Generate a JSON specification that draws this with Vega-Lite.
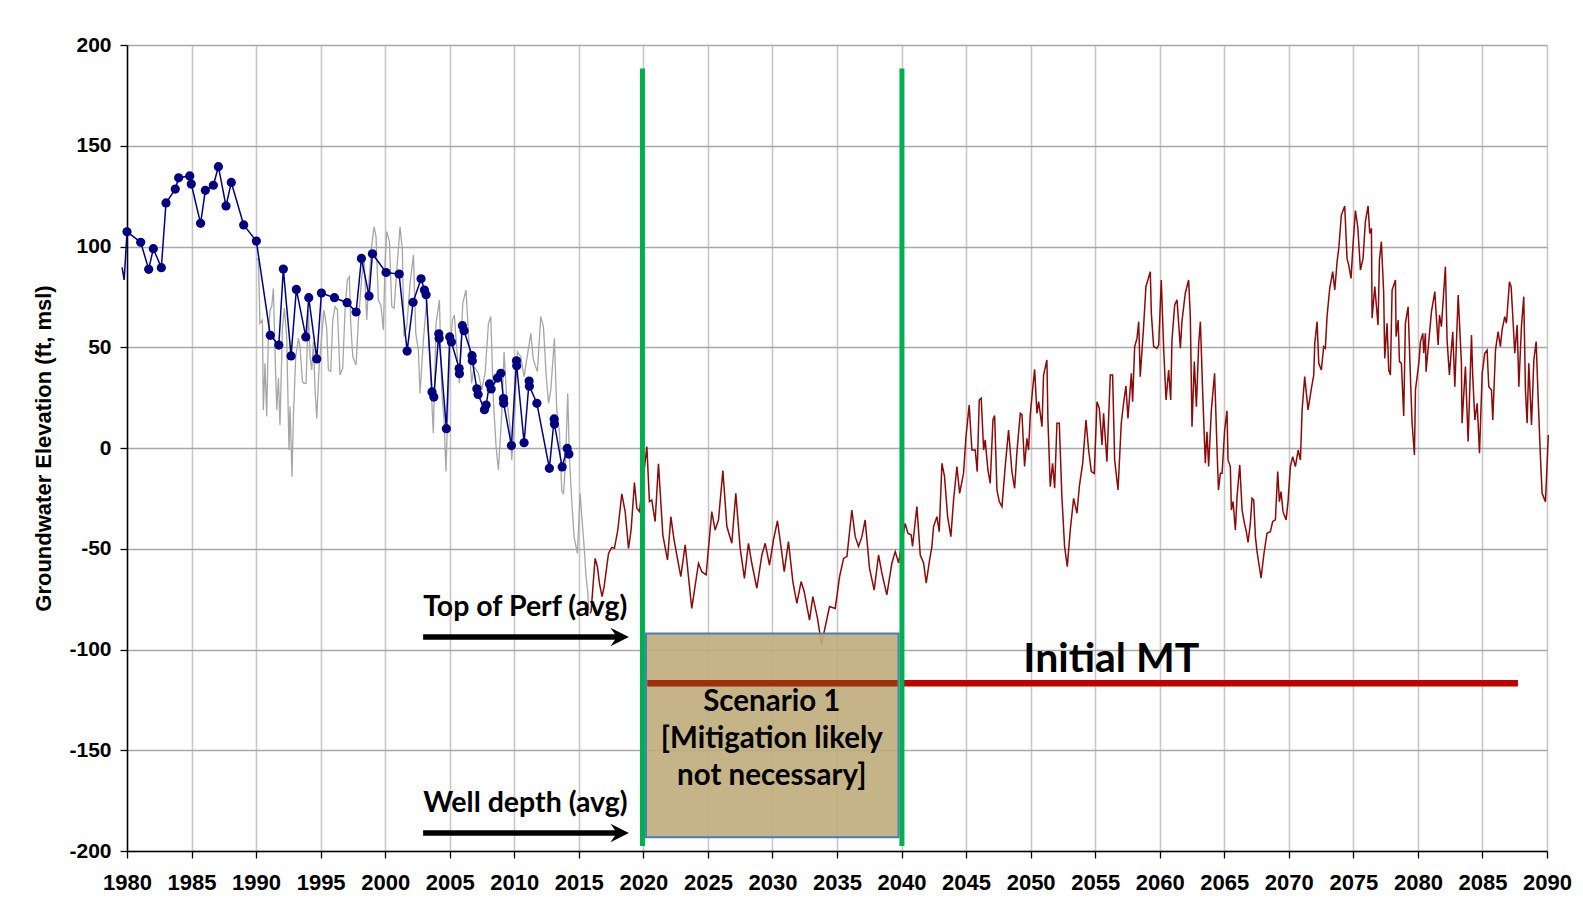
{
  "$schema": "https://vega.github.io/schema/vega-lite/v6.json",
  "width": 1420,
  "height": 806,
  "autosize": {"type": "none"},
  "padding": {"left": 127, "top": 45, "right": 36, "bottom": 52},
  "background": "#ffffff",
  "config": {"view": {"stroke": null}, "font": "Liberation Sans"},
  "datasets": {
    "blue": [
      {"year": 1979.62, "v": 89.7}, {"year": 1979.78, "v": 83.4},
      {"year": 1980.0, "v": 107.3}, {"year": 1981.06, "v": 102.1}, {"year": 1981.68, "v": 88.7}, {"year": 1982.04, "v": 98.9},
      {"year": 1982.66, "v": 89.5}, {"year": 1983.02, "v": 121.6}, {"year": 1983.74, "v": 128.5}, {"year": 1984.0, "v": 134.1},
      {"year": 1984.86, "v": 135.0}, {"year": 1984.98, "v": 131.0}, {"year": 1985.7, "v": 111.5}, {"year": 1986.07, "v": 127.9},
      {"year": 1986.69, "v": 130.4}, {"year": 1987.08, "v": 139.6}, {"year": 1987.67, "v": 120.1}, {"year": 1988.08, "v": 131.8},
      {"year": 1989.04, "v": 110.7}, {"year": 1990.02, "v": 102.7}, {"year": 1991.1, "v": 55.9}, {"year": 1991.76, "v": 51.1},
      {"year": 1992.11, "v": 88.8}, {"year": 1992.71, "v": 45.7}, {"year": 1993.12, "v": 78.7}, {"year": 1993.85, "v": 55.1},
      {"year": 1994.08, "v": 74.6}, {"year": 1994.7, "v": 44.2}, {"year": 1995.06, "v": 76.9}, {"year": 1996.07, "v": 74.6},
      {"year": 1997.05, "v": 72.1}, {"year": 1997.75, "v": 67.5}, {"year": 1998.16, "v": 94.1}, {"year": 1998.75, "v": 75.4},
      {"year": 1999.01, "v": 96.4}, {"year": 2000.07, "v": 87.1}, {"year": 2001.08, "v": 86.3}, {"year": 2001.7, "v": 48.1},
      {"year": 2002.16, "v": 72.3}, {"year": 2002.78, "v": 84.0}, {"year": 2003.04, "v": 78.4}, {"year": 2003.17, "v": 76.1},
      {"year": 2003.63, "v": 27.8}, {"year": 2003.77, "v": 25.3}, {"year": 2004.15, "v": 56.7}, {"year": 2004.18, "v": 54.4},
      {"year": 2004.74, "v": 9.6}, {"year": 2005.0, "v": 55.1}, {"year": 2005.13, "v": 52.6}, {"year": 2005.73, "v": 39.4},
      {"year": 2005.75, "v": 36.9}, {"year": 2005.98, "v": 60.7}, {"year": 2006.11, "v": 58.2}, {"year": 2006.73, "v": 45.8},
      {"year": 2006.75, "v": 43.3}, {"year": 2007.1, "v": 29.4}, {"year": 2007.2, "v": 26.6}, {"year": 2007.69, "v": 19.0},
      {"year": 2007.82, "v": 21.3}, {"year": 2008.08, "v": 31.8}, {"year": 2008.21, "v": 29.3}, {"year": 2008.7, "v": 34.7},
      {"year": 2008.96, "v": 37.1}, {"year": 2009.16, "v": 24.5}, {"year": 2009.18, "v": 22.2}, {"year": 2009.78, "v": 1.2},
      {"year": 2010.17, "v": 43.3}, {"year": 2010.19, "v": 40.8}, {"year": 2010.76, "v": 2.6}, {"year": 2011.15, "v": 33.2},
      {"year": 2011.17, "v": 30.7}, {"year": 2011.75, "v": 22.2}, {"year": 2012.72, "v": -10.1}, {"year": 2013.09, "v": 14.4},
      {"year": 2013.11, "v": 11.9}, {"year": 2013.71, "v": -9.4}, {"year": 2014.1, "v": -0.2}, {"year": 2014.23, "v": -3.0}
    ],
    "gray": [
      {"year": 1990.02, "v": 93.3}, {"year": 1990.18, "v": 94.1}, {"year": 1990.3, "v": 61.9}, {"year": 1990.49, "v": 63.5},
      {"year": 1990.56, "v": 18.9}, {"year": 1990.69, "v": 42.0}, {"year": 1990.82, "v": 15.6}, {"year": 1990.95, "v": 55.3},
      {"year": 1991.08, "v": 68.5}, {"year": 1991.21, "v": 70.1}, {"year": 1991.34, "v": 79.2}, {"year": 1991.47, "v": 47.0},
      {"year": 1991.6, "v": 18.9}, {"year": 1991.73, "v": 34.6}, {"year": 1991.85, "v": 11.4}, {"year": 1992.04, "v": 59.4},
      {"year": 1992.19, "v": 69.3}, {"year": 1992.37, "v": 55.3}, {"year": 1992.55, "v": -1.0}, {"year": 1992.63, "v": 20.5},
      {"year": 1992.78, "v": -14.2}, {"year": 1992.89, "v": 15.6}, {"year": 1993.07, "v": 45.3}, {"year": 1993.28, "v": 54.4},
      {"year": 1993.4, "v": 50.3}, {"year": 1993.59, "v": 32.9}, {"year": 1993.71, "v": 32.1}, {"year": 1993.87, "v": 32.1},
      {"year": 1994.05, "v": 68.5}, {"year": 1994.18, "v": 45.3}, {"year": 1994.31, "v": 38.7}, {"year": 1994.44, "v": 52.8},
      {"year": 1994.57, "v": 28.8}, {"year": 1994.7, "v": 14.7}, {"year": 1994.88, "v": 40.4}, {"year": 1995.08, "v": 55.3},
      {"year": 1995.26, "v": 68.5}, {"year": 1995.47, "v": 59.4}, {"year": 1995.6, "v": 38.7}, {"year": 1995.78, "v": 37.9},
      {"year": 1995.94, "v": 63.5}, {"year": 1996.12, "v": 70.1}, {"year": 1996.3, "v": 68.5}, {"year": 1996.5, "v": 36.2},
      {"year": 1996.71, "v": 39.6}, {"year": 1996.89, "v": 68.5}, {"year": 1997.07, "v": 83.4}, {"year": 1997.23, "v": 85.0},
      {"year": 1997.33, "v": 61.9}, {"year": 1997.49, "v": 45.3}, {"year": 1997.74, "v": 41.2}, {"year": 1997.93, "v": 63.5},
      {"year": 1998.18, "v": 84.2}, {"year": 1998.36, "v": 95.8}, {"year": 1998.57, "v": 63.5}, {"year": 1998.7, "v": 79.2},
      {"year": 1998.96, "v": 100.7}, {"year": 1999.14, "v": 109.8}, {"year": 1999.29, "v": 104.9}, {"year": 1999.47, "v": 73.4},
      {"year": 1999.66, "v": 71.0}, {"year": 1999.86, "v": 58.6}, {"year": 1999.99, "v": 91.6}, {"year": 2000.12, "v": 107.4},
      {"year": 2000.33, "v": 102.4}, {"year": 2000.51, "v": 70.1}, {"year": 2000.69, "v": 69.3}, {"year": 2000.9, "v": 88.3},
      {"year": 2001.15, "v": 109.8}, {"year": 2001.33, "v": 98.3}, {"year": 2001.46, "v": 55.3}, {"year": 2001.67, "v": 60.2},
      {"year": 2001.93, "v": 81.7}, {"year": 2002.19, "v": 95.8}, {"year": 2002.37, "v": 56.9}, {"year": 2002.57, "v": 48.6},
      {"year": 2002.7, "v": 27.1}, {"year": 2002.96, "v": 53.6}, {"year": 2003.22, "v": 73.4}, {"year": 2003.47, "v": 42.0},
      {"year": 2003.73, "v": 7.3}, {"year": 2003.94, "v": 61.9}, {"year": 2004.2, "v": 73.4}, {"year": 2004.38, "v": 28.8},
      {"year": 2004.56, "v": 13.9}, {"year": 2004.71, "v": -11.7}, {"year": 2004.82, "v": 12.3}, {"year": 2005.02, "v": 48.6},
      {"year": 2005.21, "v": 63.5}, {"year": 2005.36, "v": 66.0}, {"year": 2005.54, "v": 49.5}, {"year": 2005.75, "v": 32.1},
      {"year": 2006.01, "v": 71.8}, {"year": 2006.26, "v": 78.4}, {"year": 2006.45, "v": 56.9}, {"year": 2006.7, "v": 32.1},
      {"year": 2006.88, "v": 40.4}, {"year": 2007.22, "v": 37.1}, {"year": 2007.48, "v": 28.8}, {"year": 2007.74, "v": 37.1},
      {"year": 2008.0, "v": 61.9}, {"year": 2008.18, "v": 65.2}, {"year": 2008.38, "v": 23.8}, {"year": 2008.59, "v": 0.7},
      {"year": 2008.77, "v": -10.9}, {"year": 2009.03, "v": 17.2}, {"year": 2009.21, "v": 47.8}, {"year": 2009.42, "v": 23.8},
      {"year": 2009.67, "v": 10.6}, {"year": 2009.8, "v": -6.0}, {"year": 2009.98, "v": 8.9}, {"year": 2010.24, "v": 47.8},
      {"year": 2010.5, "v": 45.3}, {"year": 2010.76, "v": 35.4}, {"year": 2011.02, "v": 46.1}, {"year": 2011.28, "v": 56.9},
      {"year": 2011.48, "v": 43.7}, {"year": 2011.79, "v": 37.9}, {"year": 2012.05, "v": 65.2}, {"year": 2012.26, "v": 60.2},
      {"year": 2012.46, "v": 37.1}, {"year": 2012.65, "v": 22.2}, {"year": 2012.83, "v": 28.8}, {"year": 2013.11, "v": 54.4},
      {"year": 2013.29, "v": 18.9}, {"year": 2013.5, "v": 8.1}, {"year": 2013.68, "v": -21.6}, {"year": 2013.81, "v": -22.5},
      {"year": 2013.96, "v": -9.2}, {"year": 2014.14, "v": 27.1}, {"year": 2014.27, "v": -4.3}, {"year": 2014.45, "v": -25.8},
      {"year": 2014.63, "v": -44.0}, {"year": 2014.89, "v": -52.3}, {"year": 2015.1, "v": -22.5}, {"year": 2015.3, "v": -39.8},
      {"year": 2015.43, "v": -50.6}, {"year": 2015.56, "v": -63.8}, {"year": 2015.69, "v": -71.3}, {"year": 2015.77, "v": -80.4}
    ],
    "red": [
      {"year": 2015.87, "v": -82.0}, {"year": 2015.95, "v": -81.2}, {"year": 2016.26, "v": -54.8}, {"year": 2016.44, "v": -58.9},
      {"year": 2016.6, "v": -67.2}, {"year": 2016.8, "v": -73.8}, {"year": 2016.96, "v": -68.8}, {"year": 2017.3, "v": -52.3},
      {"year": 2017.55, "v": -49.3}, {"year": 2017.76, "v": -49.8}, {"year": 2018.02, "v": -40.7}, {"year": 2018.33, "v": -22.8},
      {"year": 2018.59, "v": -31.6}, {"year": 2018.85, "v": -49.8}, {"year": 2019.05, "v": -40.7}, {"year": 2019.31, "v": -17.2},
      {"year": 2019.49, "v": -29.9}, {"year": 2019.7, "v": -31.6}, {"year": 2020.27, "v": 0.7}, {"year": 2020.47, "v": -26.6},
      {"year": 2020.65, "v": -25.8}, {"year": 2020.91, "v": -36.5}, {"year": 2021.17, "v": -7.9}, {"year": 2021.51, "v": -43.2},
      {"year": 2021.87, "v": -55.6}, {"year": 2022.13, "v": -34.1}, {"year": 2022.38, "v": -45.7}, {"year": 2022.9, "v": -63.8},
      {"year": 2023.24, "v": -48.1}, {"year": 2023.75, "v": -79.6}, {"year": 2024.27, "v": -57.2}, {"year": 2024.53, "v": -61.4},
      {"year": 2024.86, "v": -63.0}, {"year": 2025.3, "v": -31.6}, {"year": 2025.56, "v": -40.7}, {"year": 2025.82, "v": -35.7},
      {"year": 2026.16, "v": -11.2}, {"year": 2026.47, "v": -39.0}, {"year": 2026.85, "v": -47.3}, {"year": 2027.16, "v": -22.5},
      {"year": 2027.5, "v": -49.8}, {"year": 2027.83, "v": -64.7}, {"year": 2028.14, "v": -47.3}, {"year": 2028.4, "v": -57.2},
      {"year": 2028.79, "v": -69.6}, {"year": 2029.18, "v": -53.1}, {"year": 2029.44, "v": -47.3}, {"year": 2029.77, "v": -58.1},
      {"year": 2030.08, "v": -45.6}, {"year": 2030.39, "v": -36.1}, {"year": 2030.73, "v": -52.3}, {"year": 2030.91, "v": -61.4},
      {"year": 2031.24, "v": -46.5}, {"year": 2031.58, "v": -66.3}, {"year": 2031.89, "v": -77.1}, {"year": 2032.22, "v": -66.3},
      {"year": 2032.46, "v": -71.3}, {"year": 2032.87, "v": -85.4}, {"year": 2033.13, "v": -73.8}, {"year": 2033.49, "v": -84.5},
      {"year": 2033.8, "v": -97.3}, {"year": 2034.09, "v": -88.7}, {"year": 2034.42, "v": -78.7}, {"year": 2034.86, "v": -79.6},
      {"year": 2035.2, "v": -63.8}, {"year": 2035.51, "v": -54.8}, {"year": 2035.77, "v": -53.9}, {"year": 2036.15, "v": -30.8},
      {"year": 2036.41, "v": -44.0}, {"year": 2036.67, "v": -48.9}, {"year": 2036.93, "v": -44.0}, {"year": 2037.18, "v": -35.7},
      {"year": 2037.52, "v": -59.7}, {"year": 2037.88, "v": -70.5}, {"year": 2038.22, "v": -53.1}, {"year": 2038.48, "v": -62.2},
      {"year": 2038.86, "v": -72.9}, {"year": 2039.25, "v": -57.2}, {"year": 2039.51, "v": -51.4}, {"year": 2039.77, "v": -57.0},
      {"year": 2040.28, "v": -37.4}, {"year": 2040.49, "v": -42.3}, {"year": 2040.75, "v": -43.2}, {"year": 2040.85, "v": -48.9},
      {"year": 2041.19, "v": -29.1}, {"year": 2041.45, "v": -53.1}, {"year": 2041.71, "v": -57.2}, {"year": 2041.91, "v": -67.1},
      {"year": 2042.17, "v": -55.6}, {"year": 2042.35, "v": -48.9}, {"year": 2042.48, "v": -39.0}, {"year": 2042.74, "v": -34.1},
      {"year": 2042.92, "v": -41.5}, {"year": 2043.13, "v": -7.6}, {"year": 2043.33, "v": -14.2}, {"year": 2043.57, "v": -34.1},
      {"year": 2043.82, "v": -44.0}, {"year": 2044.03, "v": -25.8}, {"year": 2044.29, "v": -9.2}, {"year": 2044.5, "v": -22.5},
      {"year": 2044.8, "v": -12.6}, {"year": 2044.99, "v": 5.6}, {"year": 2045.24, "v": 21.3}, {"year": 2045.45, "v": -1.0},
      {"year": 2045.71, "v": -1.0}, {"year": 2045.86, "v": -11.7}, {"year": 2046.02, "v": 23.8}, {"year": 2046.17, "v": 24.7},
      {"year": 2046.36, "v": -1.0}, {"year": 2046.48, "v": 4.0}, {"year": 2046.69, "v": -10.9}, {"year": 2046.87, "v": -17.5},
      {"year": 2047.08, "v": 13.9}, {"year": 2047.21, "v": 16.1}, {"year": 2047.39, "v": -20.8}, {"year": 2047.57, "v": -26.6},
      {"year": 2047.78, "v": -29.1}, {"year": 2048.03, "v": -9.2}, {"year": 2048.29, "v": 8.9}, {"year": 2048.55, "v": -11.7},
      {"year": 2048.76, "v": -20.0}, {"year": 2048.94, "v": -1.8}, {"year": 2049.2, "v": 17.2}, {"year": 2049.33, "v": 16.4},
      {"year": 2049.53, "v": -9.2}, {"year": 2049.71, "v": 4.8}, {"year": 2049.84, "v": -1.0}, {"year": 2049.97, "v": 16.4},
      {"year": 2050.15, "v": 28.8}, {"year": 2050.31, "v": 39.0}, {"year": 2050.49, "v": 17.2}, {"year": 2050.62, "v": 23.0},
      {"year": 2050.88, "v": 10.6}, {"year": 2051.0, "v": 36.2}, {"year": 2051.26, "v": 43.7}, {"year": 2051.34, "v": 13.9},
      {"year": 2051.52, "v": -19.2}, {"year": 2051.7, "v": -7.6}, {"year": 2051.86, "v": -20.0}, {"year": 2052.04, "v": 12.3},
      {"year": 2052.22, "v": 12.3}, {"year": 2052.42, "v": -24.1}, {"year": 2052.63, "v": -48.9}, {"year": 2052.84, "v": -58.9},
      {"year": 2053.07, "v": -40.7}, {"year": 2053.33, "v": -25.0}, {"year": 2053.59, "v": -32.4}, {"year": 2053.77, "v": -19.2},
      {"year": 2054.03, "v": -7.6}, {"year": 2054.29, "v": 13.9}, {"year": 2054.49, "v": -1.0}, {"year": 2054.7, "v": -11.7},
      {"year": 2054.93, "v": -12.6}, {"year": 2055.14, "v": 23.0}, {"year": 2055.32, "v": 19.7}, {"year": 2055.53, "v": 1.5},
      {"year": 2055.65, "v": 17.2}, {"year": 2055.91, "v": -6.8}, {"year": 2056.17, "v": 36.2}, {"year": 2056.35, "v": 36.2},
      {"year": 2056.51, "v": -6.0}, {"year": 2056.77, "v": -20.8}, {"year": 2057.02, "v": 12.3}, {"year": 2057.2, "v": 22.2},
      {"year": 2057.38, "v": 30.8}, {"year": 2057.54, "v": 14.7}, {"year": 2057.8, "v": 37.1}, {"year": 2057.9, "v": 23.0},
      {"year": 2058.06, "v": 50.3}, {"year": 2058.24, "v": 54.4}, {"year": 2058.37, "v": 62.7}, {"year": 2058.49, "v": 35.4},
      {"year": 2058.75, "v": 60.2}, {"year": 2058.93, "v": 80.1}, {"year": 2059.27, "v": 87.5}, {"year": 2059.35, "v": 66.8},
      {"year": 2059.53, "v": 50.3}, {"year": 2059.79, "v": 49.5}, {"year": 2059.92, "v": 51.1}, {"year": 2060.12, "v": 83.4},
      {"year": 2060.31, "v": 48.6}, {"year": 2060.49, "v": 23.8}, {"year": 2060.69, "v": 38.7}, {"year": 2060.85, "v": 23.8},
      {"year": 2060.95, "v": 53.6}, {"year": 2061.16, "v": 71.0}, {"year": 2061.34, "v": 73.5}, {"year": 2061.6, "v": 49.5},
      {"year": 2061.72, "v": 62.7}, {"year": 2061.98, "v": 76.8}, {"year": 2062.24, "v": 83.4}, {"year": 2062.37, "v": 65.2},
      {"year": 2062.5, "v": 10.6}, {"year": 2062.68, "v": 42.9}, {"year": 2062.84, "v": 20.5}, {"year": 2063.02, "v": 52.0},
      {"year": 2063.15, "v": 62.7}, {"year": 2063.33, "v": 27.1}, {"year": 2063.53, "v": -7.6}, {"year": 2063.66, "v": 8.1},
      {"year": 2063.79, "v": -9.2}, {"year": 2064.0, "v": 18.9}, {"year": 2064.25, "v": 37.1}, {"year": 2064.44, "v": -1.0},
      {"year": 2064.55, "v": -20.8}, {"year": 2064.7, "v": -12.5}, {"year": 2064.83, "v": -12.5}, {"year": 2065.03, "v": 8.9},
      {"year": 2065.21, "v": 18.5}, {"year": 2065.29, "v": -5.9}, {"year": 2065.47, "v": -9.2}, {"year": 2065.55, "v": -30.7},
      {"year": 2065.68, "v": -26.6}, {"year": 2065.86, "v": -40.7}, {"year": 2065.99, "v": -24.1}, {"year": 2066.2, "v": -8.4},
      {"year": 2066.38, "v": -30.7}, {"year": 2066.56, "v": -37.4}, {"year": 2066.71, "v": -41.5}, {"year": 2066.84, "v": -46.9},
      {"year": 2067.02, "v": -37.4}, {"year": 2067.15, "v": -24.9}, {"year": 2067.28, "v": -25.8}, {"year": 2067.41, "v": -44.0},
      {"year": 2067.54, "v": -51.4}, {"year": 2067.85, "v": -64.6}, {"year": 2068.06, "v": -53.1}, {"year": 2068.31, "v": -42.3},
      {"year": 2068.57, "v": -41.5}, {"year": 2068.75, "v": -36.5}, {"year": 2068.96, "v": -35.7}, {"year": 2069.14, "v": -11.7},
      {"year": 2069.27, "v": -26.6}, {"year": 2069.4, "v": -21.6}, {"year": 2069.55, "v": -31.6}, {"year": 2069.79, "v": -35.7},
      {"year": 2069.94, "v": -26.6}, {"year": 2070.12, "v": -9.2}, {"year": 2070.3, "v": -4.3}, {"year": 2070.51, "v": -9.2},
      {"year": 2070.72, "v": -1.0}, {"year": 2070.9, "v": -6.0}, {"year": 2071.03, "v": 18.9}, {"year": 2071.23, "v": 35.4},
      {"year": 2071.49, "v": 18.9}, {"year": 2071.75, "v": 29.6}, {"year": 2071.93, "v": 36.2}, {"year": 2072.01, "v": 51.9},
      {"year": 2072.19, "v": 62.7}, {"year": 2072.32, "v": 42.0}, {"year": 2072.52, "v": 38.7}, {"year": 2072.7, "v": 50.3},
      {"year": 2072.83, "v": 49.5}, {"year": 2072.96, "v": 65.2}, {"year": 2073.17, "v": 79.2}, {"year": 2073.4, "v": 87.5},
      {"year": 2073.56, "v": 78.4}, {"year": 2073.74, "v": 92.5}, {"year": 2073.87, "v": 99.1}, {"year": 2074.07, "v": 115.6},
      {"year": 2074.33, "v": 120.1}, {"year": 2074.51, "v": 94.1}, {"year": 2074.64, "v": 90.8}, {"year": 2074.82, "v": 84.2},
      {"year": 2074.98, "v": 101.6}, {"year": 2075.16, "v": 117.8}, {"year": 2075.34, "v": 109.8}, {"year": 2075.55, "v": 88.3},
      {"year": 2075.75, "v": 94.1}, {"year": 2075.93, "v": 112.3}, {"year": 2076.14, "v": 120.1}, {"year": 2076.27, "v": 106.5},
      {"year": 2076.4, "v": 109.0}, {"year": 2076.45, "v": 64.4}, {"year": 2076.66, "v": 80.1}, {"year": 2076.79, "v": 70.1},
      {"year": 2076.91, "v": 61.0}, {"year": 2077.02, "v": 93.3}, {"year": 2077.17, "v": 102.4}, {"year": 2077.35, "v": 76.8},
      {"year": 2077.43, "v": 44.5}, {"year": 2077.61, "v": 61.9}, {"year": 2077.74, "v": 38.7}, {"year": 2077.87, "v": 36.2},
      {"year": 2078.0, "v": 78.4}, {"year": 2078.26, "v": 83.4}, {"year": 2078.31, "v": 55.3}, {"year": 2078.47, "v": 63.5},
      {"year": 2078.57, "v": 42.9}, {"year": 2078.72, "v": 42.0}, {"year": 2078.9, "v": 15.9}, {"year": 2079.03, "v": 61.9},
      {"year": 2079.24, "v": 70.1}, {"year": 2079.42, "v": 35.4}, {"year": 2079.55, "v": 12.3}, {"year": 2079.73, "v": -3.5},
      {"year": 2079.81, "v": 28.8}, {"year": 2080.07, "v": 42.0}, {"year": 2080.2, "v": 52.8}, {"year": 2080.38, "v": 56.9},
      {"year": 2080.45, "v": 47.0}, {"year": 2080.58, "v": 56.9}, {"year": 2080.63, "v": 37.9}, {"year": 2080.84, "v": 52.8},
      {"year": 2081.05, "v": 67.7}, {"year": 2081.31, "v": 77.6}, {"year": 2081.41, "v": 66.8}, {"year": 2081.57, "v": 51.1},
      {"year": 2081.67, "v": 66.0}, {"year": 2081.82, "v": 60.2}, {"year": 2082.13, "v": 90.0}, {"year": 2082.26, "v": 53.6},
      {"year": 2082.44, "v": 36.2}, {"year": 2082.7, "v": 57.7}, {"year": 2082.86, "v": 30.4}, {"year": 2083.12, "v": 75.9},
      {"year": 2083.37, "v": 42.0}, {"year": 2083.42, "v": 12.3}, {"year": 2083.68, "v": 40.4}, {"year": 2083.89, "v": 3.2},
      {"year": 2084.15, "v": 56.1}, {"year": 2084.25, "v": 35.4}, {"year": 2084.41, "v": 13.9}, {"year": 2084.59, "v": 22.2},
      {"year": 2084.77, "v": -2.6}, {"year": 2084.98, "v": 37.1}, {"year": 2085.18, "v": 47.0}, {"year": 2085.36, "v": 48.6},
      {"year": 2085.49, "v": 30.4}, {"year": 2085.7, "v": 28.8}, {"year": 2085.8, "v": 13.9}, {"year": 2086.01, "v": 48.6},
      {"year": 2086.21, "v": 57.7}, {"year": 2086.39, "v": 50.3}, {"year": 2086.52, "v": 58.6}, {"year": 2086.73, "v": 65.2},
      {"year": 2086.86, "v": 61.9}, {"year": 2087.09, "v": 82.5}, {"year": 2087.22, "v": 80.1}, {"year": 2087.38, "v": 61.9},
      {"year": 2087.5, "v": 47.0}, {"year": 2087.69, "v": 61.0}, {"year": 2087.82, "v": 30.4}, {"year": 2088.02, "v": 60.2},
      {"year": 2088.2, "v": 75.1}, {"year": 2088.33, "v": 28.8}, {"year": 2088.46, "v": 12.3}, {"year": 2088.59, "v": 42.0},
      {"year": 2088.8, "v": 11.4}, {"year": 2088.98, "v": 43.7}, {"year": 2089.16, "v": 52.8}, {"year": 2089.31, "v": 25.5},
      {"year": 2089.49, "v": -4.3}, {"year": 2089.62, "v": -22.5}, {"year": 2089.88, "v": -26.6}, {"year": 2090.0, "v": -9.2},
      {"year": 2090.1, "v": 6.5}
    ]
  },
  "layer": [
    {
      "data": {"name": "gray"},
      "mark": {"type": "line", "color": "#a6a6a6", "strokeWidth": 1.3},
      "encoding": {
        "x": {"field": "year", "type": "quantitative", "scale": {"domain": [1980, 2090], "nice": false, "zero": false},
          "axis": {"values": [1980,1985,1990,1995,2000,2005,2010,2015,2020,2025,2030,2035,2040,2045,2050,2055,2060,2065,2070,2075,2080,2085,2090],
            "format": "d", "title": null, "labelFont": "Liberation Sans", "labelFontWeight": "bold", "labelFontSize": 22, "labelColor": "#000000",
            "labelFlush": false, "labelOverlap": false, "labelPadding": 14, "tickSize": 7, "tickColor": "#000000", "tickWidth": 1.3,
            "domainColor": "#000000", "domainWidth": 1.5, "grid": true, "gridColor": "#c8c8c8", "gridWidth": 1.6}},
        "y": {"field": "v", "type": "quantitative", "scale": {"domain": [-200, 200], "nice": false, "zero": false},
          "axis": {"values": [-200,-150,-100,-50,0,50,100,150,200], "title": "Groundwater Elevation (ft, msl)",
            "labelExpr": "datum.value < 0 ? '-' + abs(datum.value) : '' + datum.value",
            "titleFont": "Liberation Sans", "titleFontWeight": "bold", "titleFontSize": 22, "titleColor": "#000000", "titlePadding": 13,
            "labelFont": "Liberation Sans", "labelFontWeight": "bold", "labelFontSize": 21, "labelColor": "#000000", "labelPadding": 9,
            "labelFlush": false, "tickSize": 7, "tickColor": "#000000", "tickWidth": 1.3, "domainColor": "#000000", "domainWidth": 1.5,
            "grid": true, "gridColor": "#a8a8a8", "gridWidth": 1.6}}
      }
    },
    {
      "data": {"name": "blue"},
      "mark": {"type": "line", "color": "#000080", "strokeWidth": 1.5},
      "encoding": {"x": {"field": "year", "type": "quantitative"}, "y": {"field": "v", "type": "quantitative"}}
    },
    {
      "data": {"name": "blue"},
      "transform": [{"filter": "datum.year >= 1980"}],
      "mark": {"type": "point", "shape": "circle", "filled": true, "color": "#000080", "opacity": 1, "size": 85},
      "encoding": {"x": {"field": "year", "type": "quantitative"}, "y": {"field": "v", "type": "quantitative"}}
    },
    {
      "data": {"name": "red"},
      "mark": {"type": "line", "color": "#8b0a0a", "strokeWidth": 1.5},
      "encoding": {"x": {"field": "year", "type": "quantitative"}, "y": {"field": "v", "type": "quantitative"}}
    },
    {
      "data": {"values": [{"x": 2040.0, "x2": 2087.75, "y": -116.8}]},
      "mark": {"type": "rule", "color": "#c00000", "strokeWidth": 6.5},
      "encoding": {"x": {"field": "x", "type": "quantitative"}, "x2": {"field": "x2"}, "y": {"field": "y", "type": "quantitative"}}
    },
    {
      "data": {"values": [{"x": 2020.2, "x2": 2039.77, "y": -92.0, "y2": -193.2}]},
      "mark": {"type": "rect", "fill": "#bfac7a", "fillOpacity": 0.9, "stroke": "#4a7ebb", "strokeWidth": 2},
      "encoding": {"x": {"field": "x", "type": "quantitative"}, "x2": {"field": "x2"}, "y": {"field": "y", "type": "quantitative"}, "y2": {"field": "y2"}}
    },
    {
      "data": {"values": [{"x": 2020.3, "x2": 2039.7, "y": -116.8}]},
      "mark": {"type": "rule", "color": "#a03008", "strokeWidth": 6.5},
      "encoding": {"x": {"field": "x", "type": "quantitative"}, "x2": {"field": "x2"}, "y": {"field": "y", "type": "quantitative"}}
    },
    {
      "data": {"values": [{"x": 2019.93, "y": 188.3, "y2": -197.5}, {"x": 2040.03, "y": 188.3, "y2": -197.5}]},
      "mark": {"type": "rule", "color": "#00b050", "strokeWidth": 5},
      "encoding": {"x": {"field": "x", "type": "quantitative"}, "y": {"field": "y", "type": "quantitative"}, "y2": {"field": "y2"}}
    },
    {
      "data": {"values": [{"x": 2002.94, "x2": 2018.3, "y": -93.8}, {"x": 2002.94, "x2": 2018.3, "y": -191.1}]},
      "mark": {"type": "rule", "color": "#000000", "strokeWidth": 5.5},
      "encoding": {"x": {"field": "x", "type": "quantitative"}, "x2": {"field": "x2"}, "y": {"field": "y", "type": "quantitative"}}
    },
    {
      "data": {"values": [{"x": 2018.88, "y": -93.8}, {"x": 2018.88, "y": -191.1}]},
      "mark": {"type": "point", "shape": "M-2,-1L0,0L-2,1L-1.3,0Z", "filled": true, "color": "#000000", "opacity": 1, "size": 340},
      "encoding": {"x": {"field": "x", "type": "quantitative"}, "y": {"field": "y", "type": "quantitative"}}
    },
    {
      "data": {"values": [
        {"x": 2002.94, "y": -83.4, "t": "Top of Perf (avg)"},
        {"x": 2002.94, "y": -180.5, "t": "Well depth (avg)"}
      ]},
      "mark": {"type": "text", "font": "Lato", "fontWeight": "bold", "fontSize": 28.5, "align": "left", "baseline": "alphabetic", "color": "#000000"},
      "encoding": {"x": {"field": "x", "type": "quantitative"}, "y": {"field": "y", "type": "quantitative"}, "text": {"field": "t"}}
    },
    {
      "data": {"values": [
        {"x": 2029.95, "y": -130.4, "t": "Scenario 1"},
        {"x": 2029.95, "y": -148.9, "t": "[Mitigation likely"},
        {"x": 2029.95, "y": -167.2, "t": "not necessary]"}
      ]},
      "mark": {"type": "text", "font": "Lato", "fontWeight": "bold", "fontSize": 29.5, "align": "center", "baseline": "alphabetic", "color": "#000000"},
      "encoding": {"x": {"field": "x", "type": "quantitative"}, "y": {"field": "y", "type": "quantitative"}, "text": {"field": "t"}}
    },
    {
      "data": {"values": [{"x": 2049.43, "y": -111.0, "t": "Initial MT"}]},
      "mark": {"type": "text", "font": "Lato", "fontWeight": "bold", "fontSize": 41, "align": "left", "baseline": "alphabetic", "color": "#000000"},
      "encoding": {"x": {"field": "x", "type": "quantitative"}, "y": {"field": "y", "type": "quantitative"}, "text": {"field": "t"}}
    }
  ]
}
